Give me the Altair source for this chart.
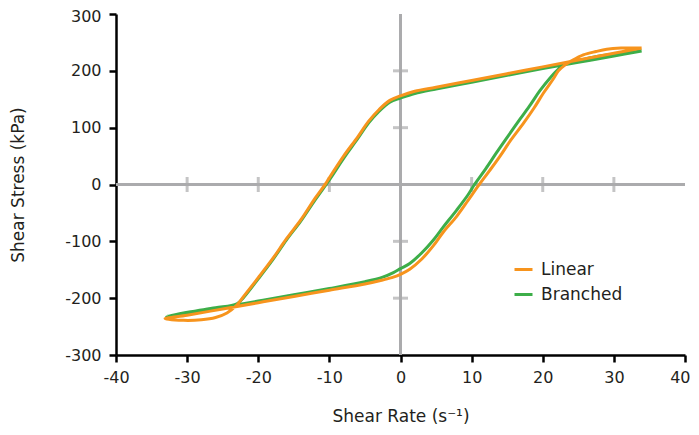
import altair as alt
import pandas as pd

# Linear (orange) loop, in drawing order
lin_x = [33.9, 30, 25, 20, 15, 10, 5, 2, 0, -1.5, -3, -4.5, -6, -8, -10, -10.5, -12, -14, -16, -18,
         -20, -22, -23, -24.4, -26, -28, -30.5, -33.1,
         -30, -25, -20, -15, -10, -5, -2.5, -1, 0, 1.3, 3, 4.6, 6, 7.9, 9.5, 10.9, 12.5, 14, 15.5,
         17.3, 18.8, 20.1, 21.5, 22.2, 23.2, 24.1, 25.7, 27.5, 29, 31, 33.9]
lin_y = [240, 231, 219, 207, 195, 183, 171, 164, 156, 148, 132, 111, 84, 50, 12, 2, -24, -62, -95, -131,
         -164, -196, -212, -226, -234, -238, -239, -236,
         -230, -219, -208, -197, -186, -175, -168, -163, -158, -149, -131, -108, -84, -56, -28, -3, 24, 50, 78,
         108, 135, 161, 186, 200, 211, 218, 228, 234, 238, 240, 240]

# Branched (green) loop, in drawing order
br_x = [33.9, 30, 25, 20, 15, 10, 5, 2, 0, -1.5, -3, -4.5, -6, -8, -10, -12, -14, -16, -18,
        -20, -22, -23, -26, -29.5, -32.9,
        -30, -25, -20, -15, -10, -5, -2.5, -1, 0, 1.3, 3, 4.6, 6, 7.9, 9.5, 10.4, 12, 13.5, 15,
        16.8, 18.3, 19.6, 21, 22.2, 23.5, 25, 28, 31, 33.9]
br_y = [235, 226, 215, 204, 192, 180, 168, 160, 152, 145, 129, 108, 81, 46, 8, -27, -64, -97, -133,
        -166, -198, -210, -217, -224, -232,
        -227, -216, -205, -194, -183, -171, -163, -155, -148, -139, -120, -98, -75, -45, -18, 0, 28, 56, 83,
        115, 141, 165, 187, 203, 214, 218, 226, 231, 235]

x_ticks = [-30, -20, -10, 10, 20, 30]
y_ticks = [-200, -100, 100, 200]
series = ["Linear", "Branched"]
colors = ["#F7941D", "#3DAE49"]
gray = "#ABABAD"
ink = "#231F20"

lin = pd.DataFrame({"x": lin_x, "y": lin_y, "i": range(len(lin_x)), "s": "Linear"})
br = pd.DataFrame({"x": br_x, "y": br_y, "i": range(len(br_x)), "s": "Branched"})

xs = alt.Scale(domain=[-40, 40], nice=False, zero=False)
ys = alt.Scale(domain=[-300, 300], nice=False, zero=False)

xaxis = alt.Axis(values=list(range(-40, 41, 10)), grid=False, domainColor="black", domainWidth=2.5,
                 tickColor="black", tickWidth=2.5, tickSize=7, labelFontSize=16, labelColor=ink,
                 labelPadding=7, labelFlush=False, labelExpr="'' + datum.value",
                 labelAlign=alt.condition("datum.value == 40", alt.value("right"), alt.value("center")),
                 labelOffset=alt.condition("datum.value == 40", alt.value(5), alt.value(0)),
                 titleFontSize=17, titleFontWeight="normal", titleColor=ink,
                 titleX=284.5, titleY=61, titleBaseline="middle")
yaxis = alt.Axis(values=list(range(-300, 301, 100)), grid=False, domainColor="black", domainWidth=2.5,
                 tickColor="black", tickWidth=2.5, tickSize=7, labelFontSize=16, labelColor=ink,
                 labelPadding=8, labelExpr="'' + datum.value",
                 labelOffset=alt.condition("datum.value == 300", alt.value(2), alt.value(0)),
                 titleFontSize=17, titleFontWeight="normal", titleColor=ink,
                 titleX=-98, titleY=170.5, titleAngle=270, titleAlign="center", titleBaseline="middle")

X = alt.X("x:Q", scale=xs, axis=xaxis, title="Shear Rate (s⁻¹)")
Y = alt.Y("y:Q", scale=ys, axis=yaxis, title="Shear Stress (kPa)")

color = alt.Color("s:N", scale=alt.Scale(domain=series, range=colors),
                  legend=alt.Legend(title=None, orient="none", legendX=397, legendY=245, padding=0,
                                    symbolType="stroke", symbolStrokeWidth=3, symbolSize=324,
                                    labelFontSize=17, labelColor=ink, labelOffset=7, rowPadding=6))

vrule = alt.Chart(pd.DataFrame({"x": [0]})).mark_rule(color=gray, strokeWidth=3).encode(x=X)
hrule = alt.Chart(pd.DataFrame({"y": [0]})).mark_rule(color=gray, strokeWidth=3).encode(y=Y)
xt = alt.Chart(pd.DataFrame({"x": x_ticks, "y": [0] * len(x_ticks)})).mark_tick(
    color=gray, orient="vertical", size=15, thickness=3).encode(x=X, y=Y)
yt = alt.Chart(pd.DataFrame({"x": [0] * len(y_ticks), "y": y_ticks})).mark_tick(
    color=gray, orient="horizontal", size=15, thickness=3).encode(x=X, y=Y)

green = alt.Chart(br).mark_line(strokeWidth=3, interpolate="catmull-rom").encode(
    x=X, y=Y, color=color, order=alt.Order("i:Q"))
orange = alt.Chart(lin).mark_line(strokeWidth=3, interpolate="catmull-rom").encode(
    x=X, y=Y, color=color, order=alt.Order("i:Q"))

chart = alt.layer(vrule, hrule, xt, yt, green, orange).properties(
    width=569, height=341, autosize="none",
    padding={"left": 108, "top": 6, "right": 6, "bottom": 72}
).configure(font="DejaVu Sans").configure_view(stroke=None)

chart.save("out.html", embed_options={"renderer": "svg", "actions": False})
